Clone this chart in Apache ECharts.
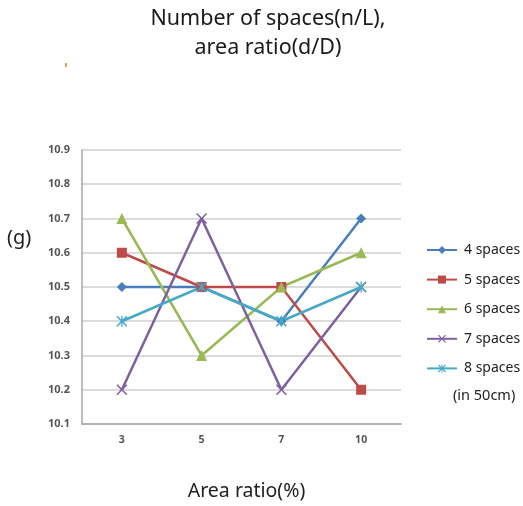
<!DOCTYPE html>
<html><head><meta charset="utf-8">
<script src="https://cdn.jsdelivr.net/npm/echarts@6/dist/echarts.min.js"></script>
<style>html,body{margin:0;padding:0;background:#fff}#c{width:523px;height:506px}</style>
</head><body><div id="c"></div>
<script>
const categories = ['3', '5', '7', '10'];
const seriesNames = ['4 spaces', '5 spaces', '6 spaces', '7 spaces', '8 spaces'];
const s4 = [10.5, 10.5, 10.4, 10.7];
const s5 = [10.6, 10.5, 10.5, 10.2];
const s6 = [10.7, 10.3, 10.5, 10.6];
const s7 = [10.2, 10.7, 10.2, 10.5];
const s8 = [10.4, 10.5, 10.4, 10.5];
const yTicks = [10.1, 10.2, 10.3, 10.4, 10.5, 10.6, 10.7, 10.8, 10.9];

const colors = ['#4a7ebb', '#be4b48', '#98b954', '#7d60a0', '#46aac5'];
const xPath = 'path://M1,0 L5,4 L9,0 L10,1 L6,5 L10,9 L9,10 L5,6 L1,10 L0,9 L4,5 L0,1 Z';
const starPath = 'path://M1,0 L5,4 L9,0 L10,1 L6,5 L10,9 L9,10 L5,6 L1,10 L0,9 L4,5 L0,1 Z M4.4,0 L5.6,0 L5.6,10 L4.4,10 Z';
const symbols = ['diamond', 'rect', 'triangle', xPath, starPath];
const symSizes = [10, 10, 11, 11, 11];
const datas = [s4, s5, s6, s7, s8];

const chart = echarts.init(document.getElementById('c'), null, {renderer: 'canvas'});
const series = datas.map((d, i) => ({
  name: seriesNames[i], type: 'line', data: d,
  symbol: symbols[i], symbolSize: symSizes[i], showAllSymbol: true,
  lineStyle: {width: 2.5, color: colors[i]},
  itemStyle: {color: colors[i]},
  emphasis: {disabled: true}
}));

chart.setOption({
  animation: false,
  textStyle: {fontFamily: 'Noto Sans'},
  title: {
    text: 'Number of spaces(n/L),\narea ratio(d/D)',
    left: 263, top: -1, textAlign: 'center',
    textStyle: {fontSize: 21.5, fontWeight: 'normal', color: '#1a1a1a', lineHeight: 29, fontFamily: 'Noto Sans'}
  },
  grid: {left: 82, right: 122, top: 150, bottom: 78},
  legend: {
    orient: 'vertical', left: 421, top: 238, itemGap: 15.6,
    itemWidth: 30, itemHeight: 10,
    textStyle: {fontSize: 14, color: '#222', padding: [0, 0, 0, 2]},
    data: seriesNames
  },
  xAxis: {
    type: 'category', data: categories, boundaryGap: true,
    axisLine: {lineStyle: {color: '#a6a6a6', width: 1.5}},
    axisTick: {show: false},
    axisLabel: {fontSize: 10.5, fontWeight: 'bold', color: '#555', margin: 11},
    name: 'Area ratio(%)', nameLocation: 'middle', nameGap: 57,
    nameTextStyle: {fontSize: 19.5, color: '#222', padding: [0, 0, 0, 10]}
  },
  yAxis: {
    type: 'value', min: 10.1, max: 10.9, interval: 0.1,
    axisLine: {show: true, lineStyle: {color: '#a6a6a6', width: 1.5}},
    axisTick: {show: false},
    splitLine: {lineStyle: {color: '#cfcfcf', width: 1.5}},
    axisLabel: {fontSize: 11, fontWeight: 'bold', color: '#555', margin: 12,
      formatter: v => { const t = yTicks.find(x => Math.abs(x - v) < 1e-6); return t !== undefined ? t.toFixed(1) : ''; }}
  },
  graphic: [
    {type: 'text', left: 7, top: 228, style: {text: '(g)', fontSize: 20, fill: '#222', fontFamily: 'Noto Sans'}},
    {type: 'text', left: 453, top: 388, style: {text: '(in 50cm)', fontSize: 14.5, fill: '#222', fontFamily: 'Noto Sans'}},
    {type: 'rect', shape: {x: 65, y: 63, width: 2, height: 4}, style: {fill: '#d9a05b'}}
  ],
  series: series
});
</script></body></html>
